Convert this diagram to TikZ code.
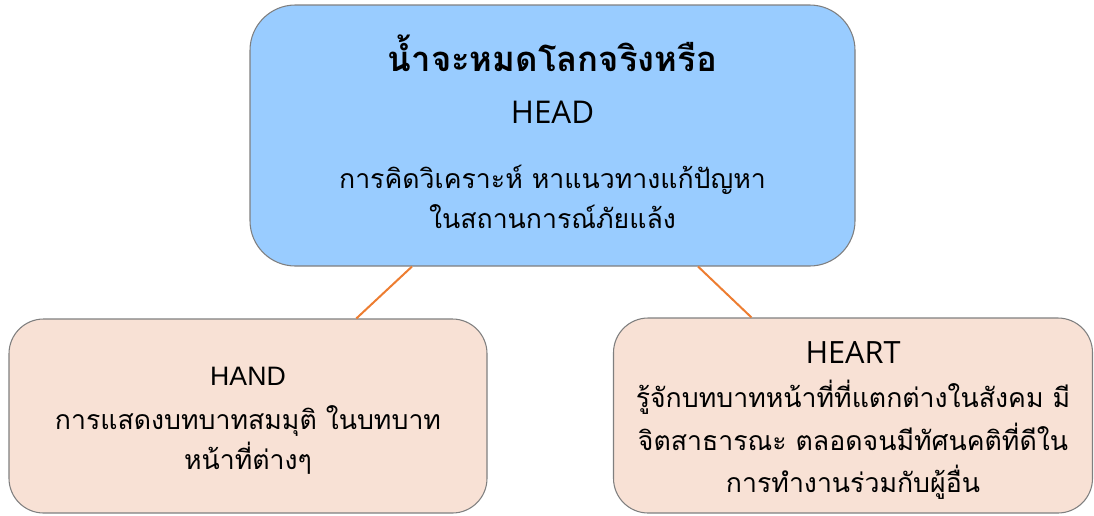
\documentclass[tikz,border=0pt]{standalone}
\usepackage{fontspec}
\usepackage{xcolor}
\newfontfamily\thaifont[Script=Thai]{Loma}
\newfontfamily\headfont{Open Sans}
\newfontfamily\handfont{Liberation Sans}
\definecolor{headblue}{HTML}{99CCFF}
\definecolor{peach}{HTML}{F8E1D5}
\definecolor{linkorange}{HTML}{ED7D31}
\definecolor{boxgray}{HTML}{7F7F7F}
\tikzstyle{headbox} = [draw=boxgray, fill=headblue, thick,
    rectangle, rounded corners=34pt, inner sep=0pt, align=center,
    minimum width=453.75pt, minimum height=195.75pt]
\tikzstyle{subbox} = [draw=boxgray, fill=peach, thick,
    rectangle, rounded corners=26pt, inner sep=0pt, align=center]
\tikzstyle{link} = [draw=linkorange, line width=1.5pt]
\tikzstyle{thaitext} = [font=\thaifont\fontsize{20}{30}\selectfont]

\begin{document}
\begin{tikzpicture}[x=0.75pt, y=-0.75pt]
\useasboundingbox (0,0) rectangle (1094,515);
\node [headbox, thaitext] (head) at (552.5,135.5) {
    {\bfseries\fontsize{26}{30}\selectfont น้ำจะหมดโลกจริงหรือ}\\[9pt]
    {\headfont\fontsize{23.5}{30}\selectfont HEAD}\\[19pt]
    การคิดวิเคราะห์ หาแนวทางแก้ปัญหา\\
    ในสถานการณ์ภัยแล้ง\rule[-6pt]{0pt}{0pt}
};
\node [subbox, thaitext, minimum width=358.5pt, minimum height=145.5pt]
    (hand) at (248,416) {
    \rule{0pt}{20.5pt}{\handfont\fontsize{20}{30}\selectfont HAND}\\[3pt]
    การแสดงบทบาทสมมุติ ในบทบาท\\
    หน้าที่ต่างๆ
};
\node [subbox, thaitext, minimum width=359.25pt, minimum height=146.25pt]
    (heart) at (853,415.5) {
    \rule{0pt}{24pt}{\headfont\fontsize{23}{30}\selectfont HEART}\\[3pt]
    รู้จักบทบาทหน้าที่ที่แตกต่างในสังคม มี\\[2pt]
    จิตสาธารณะ ตลอดจนมีทัศนคติที่ดีใน\\[2pt]
    การทำงานร่วมกับผู้อื่น
};
% orange links
\draw [link] (head.-137.5) -- (hand.42.5);
\draw [link] (head.-42.9) -- (heart.136.6);
\end{tikzpicture}
\end{document}
